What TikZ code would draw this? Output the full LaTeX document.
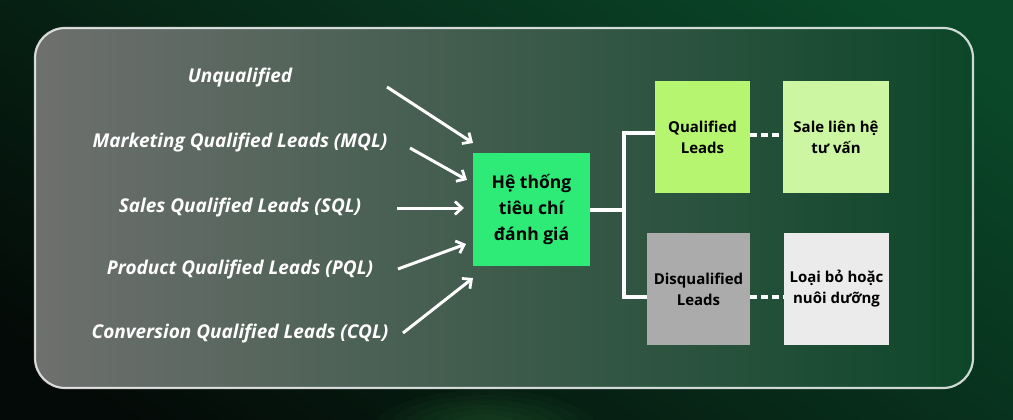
\documentclass[tikz,border=0pt]{standalone}
\usepackage{fontspec}
\setmainfont{Open Sans}
\usetikzlibrary{arrows.meta}
\definecolor{bgdark}{HTML}{040A07}
\definecolor{bggreen}{HTML}{0A4829}
\definecolor{panelgray}{HTML}{6E706E}
\definecolor{panelmid}{HTML}{1D4533}
\definecolor{panelgreen}{HTML}{0D4629}
\definecolor{mainbox}{HTML}{2EEB78}
\definecolor{qualbox}{HTML}{B6F56F}
\definecolor{salebox}{HTML}{CCF6A2}
\definecolor{disqbox}{HTML}{ABABAB}
\definecolor{loaibox}{HTML}{EBEBEB}
\tikzset{
  lead/.style={text=white,font=\fontsize{19}{22}\selectfont\bfseries\itshape},
  box/.style={align=center,text=black,inner sep=0pt,font=\fontsize{15}{21}\selectfont\bfseries},
  feed/.style={white,line width=3pt,-{Straight Barb[length=7pt,width=13pt,line width=2.8pt]}},
  link/.style={white,line width=3.2pt},
  dashlink/.style={white,line width=3.2pt,dash pattern=on 7pt off 4pt}
}
\begin{document}
\begin{tikzpicture}[x=1pt,y=-1pt]
  \useasboundingbox (0,0) rectangle (1013,420);
  \shade[top color=bggreen,bottom color=bgdark,shading angle=-35] (-60,-60) rectangle (1073,480);
  \foreach \r in {1,...,8}
    \fill[green!50!white,opacity=0.025] (485,430) ellipse ({14*\r} and {5*\r});
  \shade[rounded corners=30pt,left color=panelgray,middle color=panelmid,right color=panelgreen]
    (35,28) rectangle (973,388);
  \draw[white,opacity=0.8,line width=2.2pt,rounded corners=30pt] (35,28) rectangle (973,388);

  % lead types
  \node[lead] (unq) at (240,78) {Unqualified};
  \node[lead] (mql) at (240,143) {Marketing Qualified Leads (MQL)};
  \node[lead] (sql) at (240,208) {Sales Qualified Leads (SQL)};
  \node[lead] (pql) at (240,270) {Product Qualified Leads (PQL)};
  \node[lead] (cql) at (240,334) {Conversion Qualified Leads (CQL)};

  \node[box,fill=mainbox,minimum width=117pt,minimum height=113pt,font=\fontsize{17.5}{26}\selectfont\bfseries]
    (hethong) at (531.5,209.5) {Hệ thống\\tiêu chí\\đánh giá};
  \node[box,fill=qualbox,minimum width=95pt,minimum height=112pt] (qual) at (702.5,137) {Qualified\\Leads};
  \node[box,fill=salebox,minimum width=106pt,minimum height=112pt] (sale) at (836,137) {Sale liên hệ\\tư vấn};
  \node[box,fill=disqbox,minimum width=103pt,minimum height=112pt] (disq) at (698.5,289) {Disqualified\\Leads};
  \node[box,fill=loaibox,minimum width=105pt,minimum height=112pt] (loai) at (836.5,289) {Loại bỏ hoặc\\nuôi dưỡng};

  \coordinate (unqA) at (387,87);
  \coordinate (unqB) at (473,143);
  \coordinate (mqlA) at (410,148);
  \coordinate (mqlB) at (467,180);
  \coordinate (sqlA) at (397,208);
  \coordinate (sqlB) at (464,208);
  \coordinate (pqlA) at (398,269);
  \coordinate (pqlB) at (466,244);
  \coordinate (cqlA) at (403,333);
  \coordinate (cqlB) at (473,278);
  \coordinate (split) at (624,210);

  \draw[feed] (unqA) -- (unqB);
  \draw[feed] (mqlA) -- (mqlB);
  \draw[feed] (sqlA) -- (sqlB);
  \draw[feed] (pqlA) -- (pqlB);
  \draw[feed] (cqlA) -- (cqlB);

  \draw[link] (hethong.east |- split) -- (split);
  \draw[link] (split) |- ([yshift=4pt]qual.west);
  \draw[link] (split) |- ([yshift=-8pt]disq.west);
  \draw[dashlink] ([yshift=2pt]qual.east) -- ([yshift=2pt]sale.west);
  \draw[dashlink] ([yshift=-8pt]disq.east) -- ([yshift=-8pt]loai.west);
\end{tikzpicture}
\end{document}
